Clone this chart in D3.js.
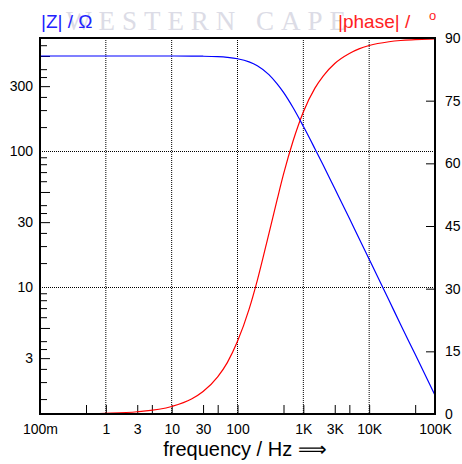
<!DOCTYPE html>
<html>
<head>
<meta charset="utf-8">
<script src="https://cdn.jsdelivr.net/npm/d3@7"></script>
<style>
  body { margin: 0; background: #fff; }
  svg { display: block; font-family: "Liberation Sans", Arial, sans-serif; }
</style>
</head>
<body>
<svg width="462" height="464"></svg>
<script>
// frequency points (Hz)
const freq = [0.1, 0.3, 1, 3, 10, 20, 30, 50, 70, 100, 150, 200, 300, 400, 500, 700,
  1000, 1500, 2000, 3000, 5000, 7000, 10000, 20000, 30000, 50000, 100000];
// |Z| in ohm (blue, left axis)
const impedance = [500, 500, 500, 500, 500, 499, 498, 494, 488, 477, 453, 424, 365, 312, 270, 208,
  152, 104, 79, 53, 32, 22.8, 16, 8, 5.3, 3.2, 1.6];
// |phase| in degrees (red, right axis)
const phase = [0.02, 0.05, 0.18, 0.54, 1.8, 3.6, 5.4, 8.9, 12.3, 17.4, 25.1, 32, 43.2, 51.3, 57.4, 65.4,
  72.3, 78, 80.9, 83.9, 86.3, 87.4, 88.2, 89.1, 89.4, 89.6, 89.8];

// ticks and labels
const xTickMarks = [0.5, 1, 3, 5, 10, 30, 50, 100, 500, 1000, 3000, 5000, 10000, 50000];
const xLabels = [0.1, 1, 3, 10, 30, 100, 1000, 3000, 10000, 100000];
const xLabelText = ["100m", "1", "3", "10", "30", "100", "1K", "3K", "10K", "100K"];
const xGrid = [1, 10, 100, 1000, 10000];
const yMinorMult = [1.5, 2, 2.5, 3.5, 4, 6, 7, 8, 9];
const yMajorMult = [3, 5];
const yDecades = [1, 10, 100];
const yLabels = [3, 10, 30, 100, 300];
const yGrid = [10, 100];
const phaseTicks = [15, 30, 45, 60, 75];
const phaseLabels = [0, 15, 30, 45, 60, 75, 90];

const svg = d3.select("svg");
const L = 40, R = 435, T = 38, B = 414;

const x = d3.scaleLog().domain([0.1, 100000]).range([L, R]);
const yZ = d3.scaleLog().domain([1.165, 678]).range([B, T]);
const yP = d3.scaleLinear().domain([0, 90]).range([B, T]);

// watermark
svg.append("text")
  .attr("x", 66).attr("y", 30)
  .attr("textLength", 280)
  .attr("lengthAdjust", "spacing")
  .style("font-family", "'Liberation Serif', 'DejaVu Serif', serif")
  .style("font-size", "27px")
  .attr("fill", "#dcdce6")
  .text("WESTERN CAPE");

// grid
svg.append("g").selectAll("line")
  .data(xGrid).enter().append("line")
  .attr("x1", d => x(d)).attr("x2", d => x(d))
  .attr("y1", T).attr("y2", B)
  .attr("stroke", "#000").attr("stroke-width", 1)
  .attr("stroke-dasharray", "1,1");

svg.append("g").selectAll("line")
  .data(yGrid).enter().append("line")
  .attr("x1", L).attr("x2", R)
  .attr("y1", d => Math.round(yZ(d)) + 0.5).attr("y2", d => Math.round(yZ(d)) + 0.5)
  .attr("stroke", "#000").attr("stroke-width", 1)
  .attr("stroke-dasharray", "1,1");

// bottom axis: tick marks then labels
const styleAxis = g => {
  g.select(".domain").remove();
  g.selectAll("line").attr("stroke", "#000");
  g.selectAll("text").attr("fill", "#000").style("font-size", "14px")
    .style("font-family", "'Liberation Sans', Arial, sans-serif");
};

svg.append("g")
  .attr("transform", `translate(0,${B})`)
  .call(d3.axisBottom(x).tickValues(xTickMarks).tickSize(-9).tickFormat(""))
  .call(styleAxis);

svg.append("g")
  .attr("transform", `translate(0,${B})`)
  .call(d3.axisBottom(x).tickValues(xLabels).tickSize(0).tickPadding(10)
    .tickFormat((d, i) => xLabelText[i]))
  .call(styleAxis);

// left axis
const minorVals = [], majorVals = [];
yDecades.forEach(dec => {
  yMinorMult.forEach(m => { if (m * dec <= 678 && m * dec >= 1.165) minorVals.push(m * dec); });
  yMajorMult.forEach(m => { if (m * dec <= 678) majorVals.push(m * dec); });
});

svg.append("g")
  .attr("transform", `translate(${L},0)`)
  .call(d3.axisLeft(yZ).tickValues(minorVals).tickSize(-7).tickFormat(""))
  .call(styleAxis);

svg.append("g")
  .attr("transform", `translate(${L},0)`)
  .call(d3.axisLeft(yZ).tickValues(majorVals).tickSize(-10).tickFormat(""))
  .call(styleAxis);

svg.append("g")
  .attr("transform", `translate(${L},0)`)
  .call(d3.axisLeft(yZ).tickValues(yLabels).tickSize(0).tickPadding(7)
    .tickFormat(d3.format("d")))
  .call(styleAxis);

// right axis
svg.append("g")
  .attr("transform", `translate(${R},0)`)
  .call(d3.axisRight(yP).tickValues(phaseTicks).tickSize(-9).tickFormat(""))
  .call(styleAxis);

svg.append("g")
  .attr("transform", `translate(${R},0)`)
  .call(d3.axisRight(yP).tickValues(phaseLabels).tickSize(0).tickPadding(10)
    .tickFormat(d3.format("d")))
  .call(styleAxis);

// curves
const zLine = d3.line()
  .x((d, i) => x(freq[i]))
  .y(d => yZ(d))
  .curve(d3.curveMonotoneX);

const pLine = d3.line()
  .x((d, i) => x(freq[i]))
  .y(d => yP(d))
  .curve(d3.curveMonotoneX);

svg.append("path")
  .datum(phase)
  .attr("d", pLine)
  .attr("fill", "none")
  .attr("stroke", "#ff0000")
  .attr("stroke-width", 1.2);

svg.append("path")
  .datum(impedance)
  .attr("d", zLine)
  .attr("fill", "none")
  .attr("stroke", "#0000ff")
  .attr("stroke-width", 1.2);

// frame
svg.append("rect")
  .attr("x", L).attr("y", T)
  .attr("width", R - L).attr("height", B - T)
  .attr("fill", "none")
  .attr("stroke", "#000")
  .attr("stroke-width", 2);

// axis titles
svg.append("text")
  .attr("x", 41).attr("y", 28)
  .attr("fill", "#2222ff")
  .style("font-size", "19px")
  .text("|Z| / Ω");

svg.append("text")
  .attr("x", 338).attr("y", 28)
  .attr("fill", "#ff2222")
  .style("font-size", "19px")
  .text("|phase| /");

svg.append("text")
  .attr("x", 429).attr("y", 20)
  .attr("fill", "#ff2222")
  .style("font-size", "13px")
  .text("o");

svg.append("text")
  .attr("x", 245).attr("y", 456)
  .attr("text-anchor", "middle")
  .attr("fill", "#000")
  .style("font-size", "20px")
  .text("frequency / Hz ⟹");
</script>
</body>
</html>
